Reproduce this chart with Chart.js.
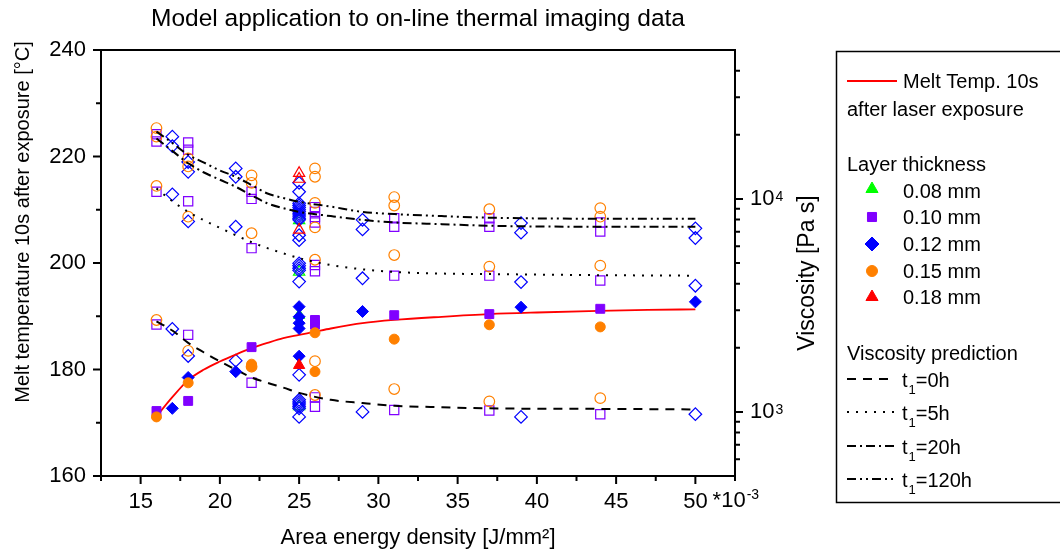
<!DOCTYPE html>
<html>
<head>
<meta charset="utf-8">
<script src="https://cdn.jsdelivr.net/npm/chart.js@4/dist/chart.umd.min.js"></script>
<style>
  html, body { margin: 0; padding: 0; background: #fff; }
</style>
</head>
<body>
<canvas id="chart" width="1060" height="554"></canvas>
<script>
/* ---------- data ---------- */

// axis ticks
const energyTicks = [15, 20, 25, 30, 35, 40, 45, 50];
const energyMinor = [12.5, 17.5, 22.5, 27.5, 32.5, 37.5, 42.5, 47.5, 52.5];
const tempTicks = [160, 180, 200, 220, 240];
const tempMinor = [170, 190, 210, 230];
const viscTicks = [1000, 10000];
const viscTickExp = ["3", "4"];
const viscMinor = [600, 700, 800, 900, 2000, 3000, 4000, 5000, 6000, 7000, 8000, 9000, 20000, 30000, 40000];

// melt temperature fit (red line), degC
const meltFitX = [16, 17, 18, 19, 20, 21, 22, 23, 24, 25, 26, 27, 29, 31, 34, 37, 40, 44, 47, 50];
const meltFit = [171.2, 174.8, 178.0, 180.0, 181.5, 182.8, 184.0, 185.0, 185.9, 186.5, 187.1, 187.7, 188.7, 189.3, 189.9, 190.4, 190.7, 191.0, 191.2, 191.3];

// viscosity predictions, Pa s
const viscFitX = [16, 17, 18, 19, 20, 21, 22, 23, 24, 25, 27, 29, 31, 34, 37, 44, 50];
const visc0h = [2660, 2410, 2110, 1900, 1725, 1581, 1451, 1370, 1300, 1228, 1139, 1100, 1069, 1051, 1039, 1033, 1027];
const visc5h = [11200, 9750, 8690, 7927, 7310, 6750, 6260, 5870, 5550, 5270, 4890, 4670, 4540, 4461, 4435, 4384, 4359];
const visc20h = [19200, 16800, 14700, 13300, 12300, 11400, 10400, 9530, 9050, 8690, 8300, 7970, 7750, 7610, 7480, 7400, 7400];
const visc120h = [20700, 18300, 16100, 14800, 13600, 12700, 11600, 10600, 10100, 9690, 9200, 8690, 8490, 8300, 8160, 8070, 8070];

// measured melt temperature (filled markers) [energy, degC]
const melt008 = [[25, 190.2]];
const melt010 = [[16, 172.2], [18, 174.1], [22, 184.2], [26, 189.3], [26, 188.4], [31, 190.2], [37, 190.4], [44, 191.4]];
const melt012 = [[17, 172.7], [18, 178.5], [21, 179.6], [25, 191.8], [25, 189.9], [25, 188.7], [25, 187.7], [25, 182.5], [29, 190.9], [39, 191.7], [50, 192.7]];
const melt015 = [[16, 171.1], [18, 177.5], [22, 181.0], [22, 180.5], [26, 186.9], [26, 179.6], [31, 185.7], [37, 188.4], [44, 188.0]];
const melt018 = [[25, 180.8]];

// measured viscosity (open markers) [energy, Pa s]
const visc008 = [[25, 7930], [25, 4540], [25, 1060]];
const visc010 = [[16, 2570], [16, 10800], [16, 20100], [16, 18600], [18, 2300], [18, 9750], [18, 18400], [18, 17000],
  [22, 1370], [22, 5870], [22, 10800], [22, 10000], [26, 1170], [26, 1057], [26, 4890], [26, 4570], [26, 9150], [26, 8690],
  [26, 8210], [26, 7750], [31, 1020], [31, 4360], [31, 8110], [31, 7400], [37, 1015], [37, 4360], [37, 8110], [37, 7400],
  [44, 975], [44, 4140], [44, 7750], [44, 7020]];
const visc012 = [[17, 2450], [17, 10500], [17, 19600], [17, 17700], [18, 1830], [18, 7840], [18, 14900], [18, 13400],
  [21, 1740], [21, 7400], [21, 13900], [21, 12700], [25, 1493], [25, 947], [25, 1140], [25, 1114], [25, 1090], [25, 1063],
  [25, 1040], [25, 4090], [25, 4980], [25, 4860], [25, 4730], [25, 4620], [25, 11900], [25, 10800], [25, 9530], [25, 9310],
  [25, 9100], [25, 8890], [25, 8690], [25, 8490], [25, 8300], [25, 8110], [25, 7970], [25, 6750], [25, 6400],
  [29, 1000], [29, 4240], [29, 7970], [29, 7190], [39, 947], [39, 4070], [39, 7700], [39, 6940],
  [50, 975], [50, 3910], [50, 7270], [50, 6550]];
const visc015 = [[16, 2700], [16, 11500], [16, 21500], [16, 19600], [18, 1935], [18, 8250], [18, 15500], [18, 14200],
  [22, 1630], [22, 6900], [22, 12900], [22, 11900], [26, 1730], [26, 1200], [26, 5180], [26, 13900], [26, 12700], [26, 9580],
  [26, 7350], [31, 1280], [31, 5450], [31, 10200], [31, 9310], [37, 1120], [37, 4810], [37, 8940],
  [44, 1160], [44, 4860], [44, 9050], [44, 8250]];
const visc018 = [[25, 13200], [25, 12400], [25, 7150]];

/* ---------- styles ---------- */

const FONT = '"Liberation Sans", Arial, sans-serif';
const GREEN = "#00ff00", VIOLET = "#8000ff", BLUE = "#0000ff", ORANGE = "#ff8000", RED = "#ff0000";
const DASH_0H = [9, 7], DASH_5H = [2, 7], DASH_20H = [9, 4, 2, 4], DASH_120H = [9, 4, 2, 4, 2, 4];

Chart.defaults.font.family = FONT;
Chart.defaults.color = "#000";

const pairs = arr => arr.map(([x, y]) => ({ x, y }));
const zip = (xs, ys) => xs.map((x, i) => ({ x, y: ys[i] }));

function filled(label, data, color, style, r) {
    return {
        label, data: pairs(data), yAxisID: "y", showLine: false,
        pointStyle: style, pointRadius: r,
        pointBackgroundColor: color, pointBorderColor: color, pointBorderWidth: 1
    };
}

function open(label, data, color, style, r) {
    return {
        label, data: pairs(data), yAxisID: "y2", showLine: false,
        pointStyle: style, pointRadius: r,
        pointBackgroundColor: "rgba(0,0,0,0)", pointBorderColor: color, pointBorderWidth: 1.2
    };
}

function curve(label, xs, ys, axis, color, dash, width) {
    return {
        label, data: zip(xs, ys), yAxisID: axis, showLine: true,
        borderColor: color, borderWidth: width, borderDash: dash,
        pointRadius: 0, cubicInterpolationMode: "monotone", fill: false
    };
}

/* ---------- decorations: frame, tick marks, titles, legend ---------- */

function marker(ctx, style, r, x, y, color) {
    ctx.fillStyle = color;
    ctx.strokeStyle = color;
    ctx.lineWidth = 1;
    Chart.helpers.drawPoint(ctx, { pointStyle: style, radius: r, rotation: 0, borderWidth: 1 }, x, y);
}

const decor = {
    id: "decor",
    afterDraw(chart) {
        const ctx = chart.ctx;
        const a = chart.chartArea;
        const sx = chart.scales.x, sy = chart.scales.y, sv = chart.scales.y2;

        ctx.save();
        ctx.strokeStyle = "#000";
        ctx.fillStyle = "#000";
        ctx.setLineDash([]);

        // frame
        ctx.lineWidth = 2;
        ctx.strokeRect(a.left, a.top, a.right - a.left, a.bottom - a.top);

        // tick marks
        ctx.beginPath();
        energyTicks.forEach(v => { const p = sx.getPixelForValue(v); ctx.moveTo(p, a.bottom); ctx.lineTo(p, a.bottom + 8); });
        energyMinor.forEach(v => { const p = sx.getPixelForValue(v); ctx.moveTo(p, a.bottom); ctx.lineTo(p, a.bottom + 5); });
        tempTicks.forEach(v => { const p = sy.getPixelForValue(v); ctx.moveTo(a.left, p); ctx.lineTo(a.left - 8, p); });
        tempMinor.forEach(v => { const p = sy.getPixelForValue(v); ctx.moveTo(a.left, p); ctx.lineTo(a.left - 5, p); });
        viscTicks.forEach(v => { const p = sv.getPixelForValue(v); ctx.moveTo(a.right, p); ctx.lineTo(a.right + 8, p); });
        viscMinor.forEach(v => { const p = sv.getPixelForValue(v); ctx.moveTo(a.right, p); ctx.lineTo(a.right + 5, p); });
        ctx.stroke();

        // right axis labels 10^3, 10^4
        viscTicks.forEach((v, i) => {
            const p = sv.getPixelForValue(v);
            ctx.font = "22px " + FONT;
            ctx.textAlign = "left";
            ctx.textBaseline = "middle";
            ctx.fillText("10", a.right + 15, p);
            const w = ctx.measureText("10").width;
            ctx.font = "14px " + FONT;
            ctx.textBaseline = "alphabetic";
            ctx.fillText(viscTickExp[i], a.right + 15 + w + 1, p + 2);
        });

        // *10^-3 after the last x label
        const p50 = sx.getPixelForValue(50);
        ctx.font = "22px " + FONT;
        ctx.textAlign = "left";
        ctx.textBaseline = "middle";
        const lblY = a.bottom + 25;
        const x0 = p50 + ctx.measureText("50").width / 2 + 5;
        ctx.fillText("*10", x0, lblY);
        const w10 = ctx.measureText("*10").width;
        ctx.font = "14px " + FONT;
        ctx.textBaseline = "alphabetic";
        ctx.fillText("-3", x0 + w10 + 1, lblY - 2);

        // titles
        ctx.textAlign = "center";
        ctx.textBaseline = "middle";
        ctx.font = "24.5px " + FONT;
        ctx.fillText("Model application to on-line thermal imaging data", (a.left + a.right) / 2, 19);
        ctx.font = "22px " + FONT;
        ctx.fillText("Area energy density [J/mm\u00b2]", (a.left + a.right) / 2, 538);

        ctx.save();
        ctx.translate(23, 222);
        ctx.rotate(-Math.PI / 2);
        ctx.font = "20px " + FONT;
        ctx.fillText("Melt temperature 10s after exposure [\u00b0C]", 0, 0);
        ctx.restore();

        ctx.save();
        ctx.translate(808, 273);
        ctx.rotate(-Math.PI / 2);
        ctx.font = "23px " + FONT;
        ctx.fillText("Viscosity [Pa s]", 0, 0);
        ctx.restore();

        // legend box
        ctx.lineWidth = 1.5;
        ctx.strokeRect(836.5, 51.5, 240, 451);

        ctx.font = "20px " + FONT;
        ctx.textAlign = "left";
        ctx.textBaseline = "alphabetic";

        ctx.strokeStyle = RED;
        ctx.lineWidth = 2;
        ctx.beginPath(); ctx.moveTo(847, 81); ctx.lineTo(897, 81); ctx.stroke();
        ctx.fillStyle = "#000";
        ctx.fillText("Melt Temp. 10s", 903, 88);
        ctx.fillText("after laser exposure", 847, 116);
        ctx.fillText("Layer thickness", 847, 171);

        const rows = [
            ["triangle", 7, GREEN, "0.08 mm", 189, 198],
            ["rect", 6.4, VIOLET, "0.10 mm", 217, 224],
            ["rectRot", 7, BLUE, "0.12 mm", 244, 251],
            ["circle", 5.5, ORANGE, "0.15 mm", 271, 278],
            ["triangle", 7, RED, "0.18 mm", 297, 304]
        ];
        rows.forEach(([style, r, color, text, my, ty]) => {
            marker(ctx, style, r, 872, my, color);
            ctx.fillStyle = "#000";
            ctx.fillText(text, 903, ty);
        });

        ctx.fillText("Viscosity prediction", 847, 360);

        const lines = [
            [DASH_0H, "0h", 379, 387],
            [DASH_5H, "5h", 412, 420],
            [DASH_20H, "20h", 446, 454],
            [DASH_120H, "120h", 479, 487]
        ];
        lines.forEach(([dash, text, ly, ty]) => {
            ctx.strokeStyle = "#000";
            ctx.lineWidth = 2;
            ctx.setLineDash(dash);
            ctx.beginPath(); ctx.moveTo(847, ly); ctx.lineTo(894, ly); ctx.stroke();
            ctx.setLineDash([]);
            ctx.font = "20px " + FONT;
            ctx.fillText("t", 902, ty);
            const wt = ctx.measureText("t").width;
            ctx.font = "13px " + FONT;
            ctx.fillText("1", 902 + wt + 1, ty + 7);
            const w1 = ctx.measureText("1").width;
            ctx.font = "20px " + FONT;
            ctx.fillText("=" + text, 902 + wt + w1 + 1, ty);
        });

        ctx.restore();
    }
};

/* ---------- chart ---------- */

new Chart(document.getElementById("chart"), {
    type: "scatter",
    data: {
        datasets: [
            filled("0.18 mm", melt018, RED, "triangle", 6.5),
            filled("0.15 mm", melt015, ORANGE, "circle", 5),
            filled("0.12 mm", melt012, BLUE, "rectRot", 6),
            filled("0.10 mm", melt010, VIOLET, "rect", 6.3),
            filled("0.08 mm", melt008, GREEN, "triangle", 6.5),
            curve("Melt Temp. 10s after laser exposure", meltFitX, meltFit, "y", RED, [], 1.8),
            curve("t1=0h", viscFitX, visc0h, "y2", "#000", DASH_0H, 2),
            curve("t1=5h", viscFitX, visc5h, "y2", "#000", DASH_5H, 2),
            curve("t1=20h", viscFitX, visc20h, "y2", "#000", DASH_20H, 2),
            curve("t1=120h", viscFitX, visc120h, "y2", "#000", DASH_120H, 2),
            open("0.18 mm visc", visc018, RED, "triangle", 6.5),
            open("0.15 mm visc", visc015, ORANGE, "circle", 5.3),
            open("0.12 mm visc", visc012, BLUE, "rectRot", 6.3),
            open("0.10 mm visc", visc010, VIOLET, "rect", 6.5),
            open("0.08 mm visc", visc008, GREEN, "triangle", 6.5)
        ]
    },
    options: {
        responsive: false,
        animation: false,
        events: [],
        layout: { padding: { top: 50, left: 0, right: 0, bottom: 0 } },
        plugins: {
            legend: { display: false },
            tooltip: { enabled: false },
            title: { display: false }
        },
        scales: {
            x: {
                type: "linear",
                min: 12.5,
                max: 52.5,
                grid: { display: false, drawTicks: false },
                border: { display: false },
                ticks: {
                    stepSize: 2.5,
                    autoSkip: false,
                    maxRotation: 0,
                    padding: 13,
                    font: { size: 22 },
                    color: "#000",
                    callback: v => energyTicks.includes(v) ? String(v) : ""
                },
                afterFit: s => { s.height = 78; }
            },
            y: {
                type: "linear",
                position: "left",
                min: 160,
                max: 240,
                grid: { display: false, drawTicks: false },
                border: { display: false },
                ticks: {
                    stepSize: 10,
                    autoSkip: false,
                    padding: 15,
                    font: { size: 22 },
                    color: "#000",
                    callback: v => tempTicks.includes(v) ? String(v) : ""
                },
                afterFit: s => { s.width = 101; }
            },
            y2: {
                type: "logarithmic",
                position: "right",
                min: 500,
                max: 50000,
                grid: { display: false, drawTicks: false },
                border: { display: false },
                ticks: { callback: () => "" },
                afterFit: s => { s.width = 325; }
            }
        }
    },
    plugins: [decor]
});
</script>
</body>
</html>
